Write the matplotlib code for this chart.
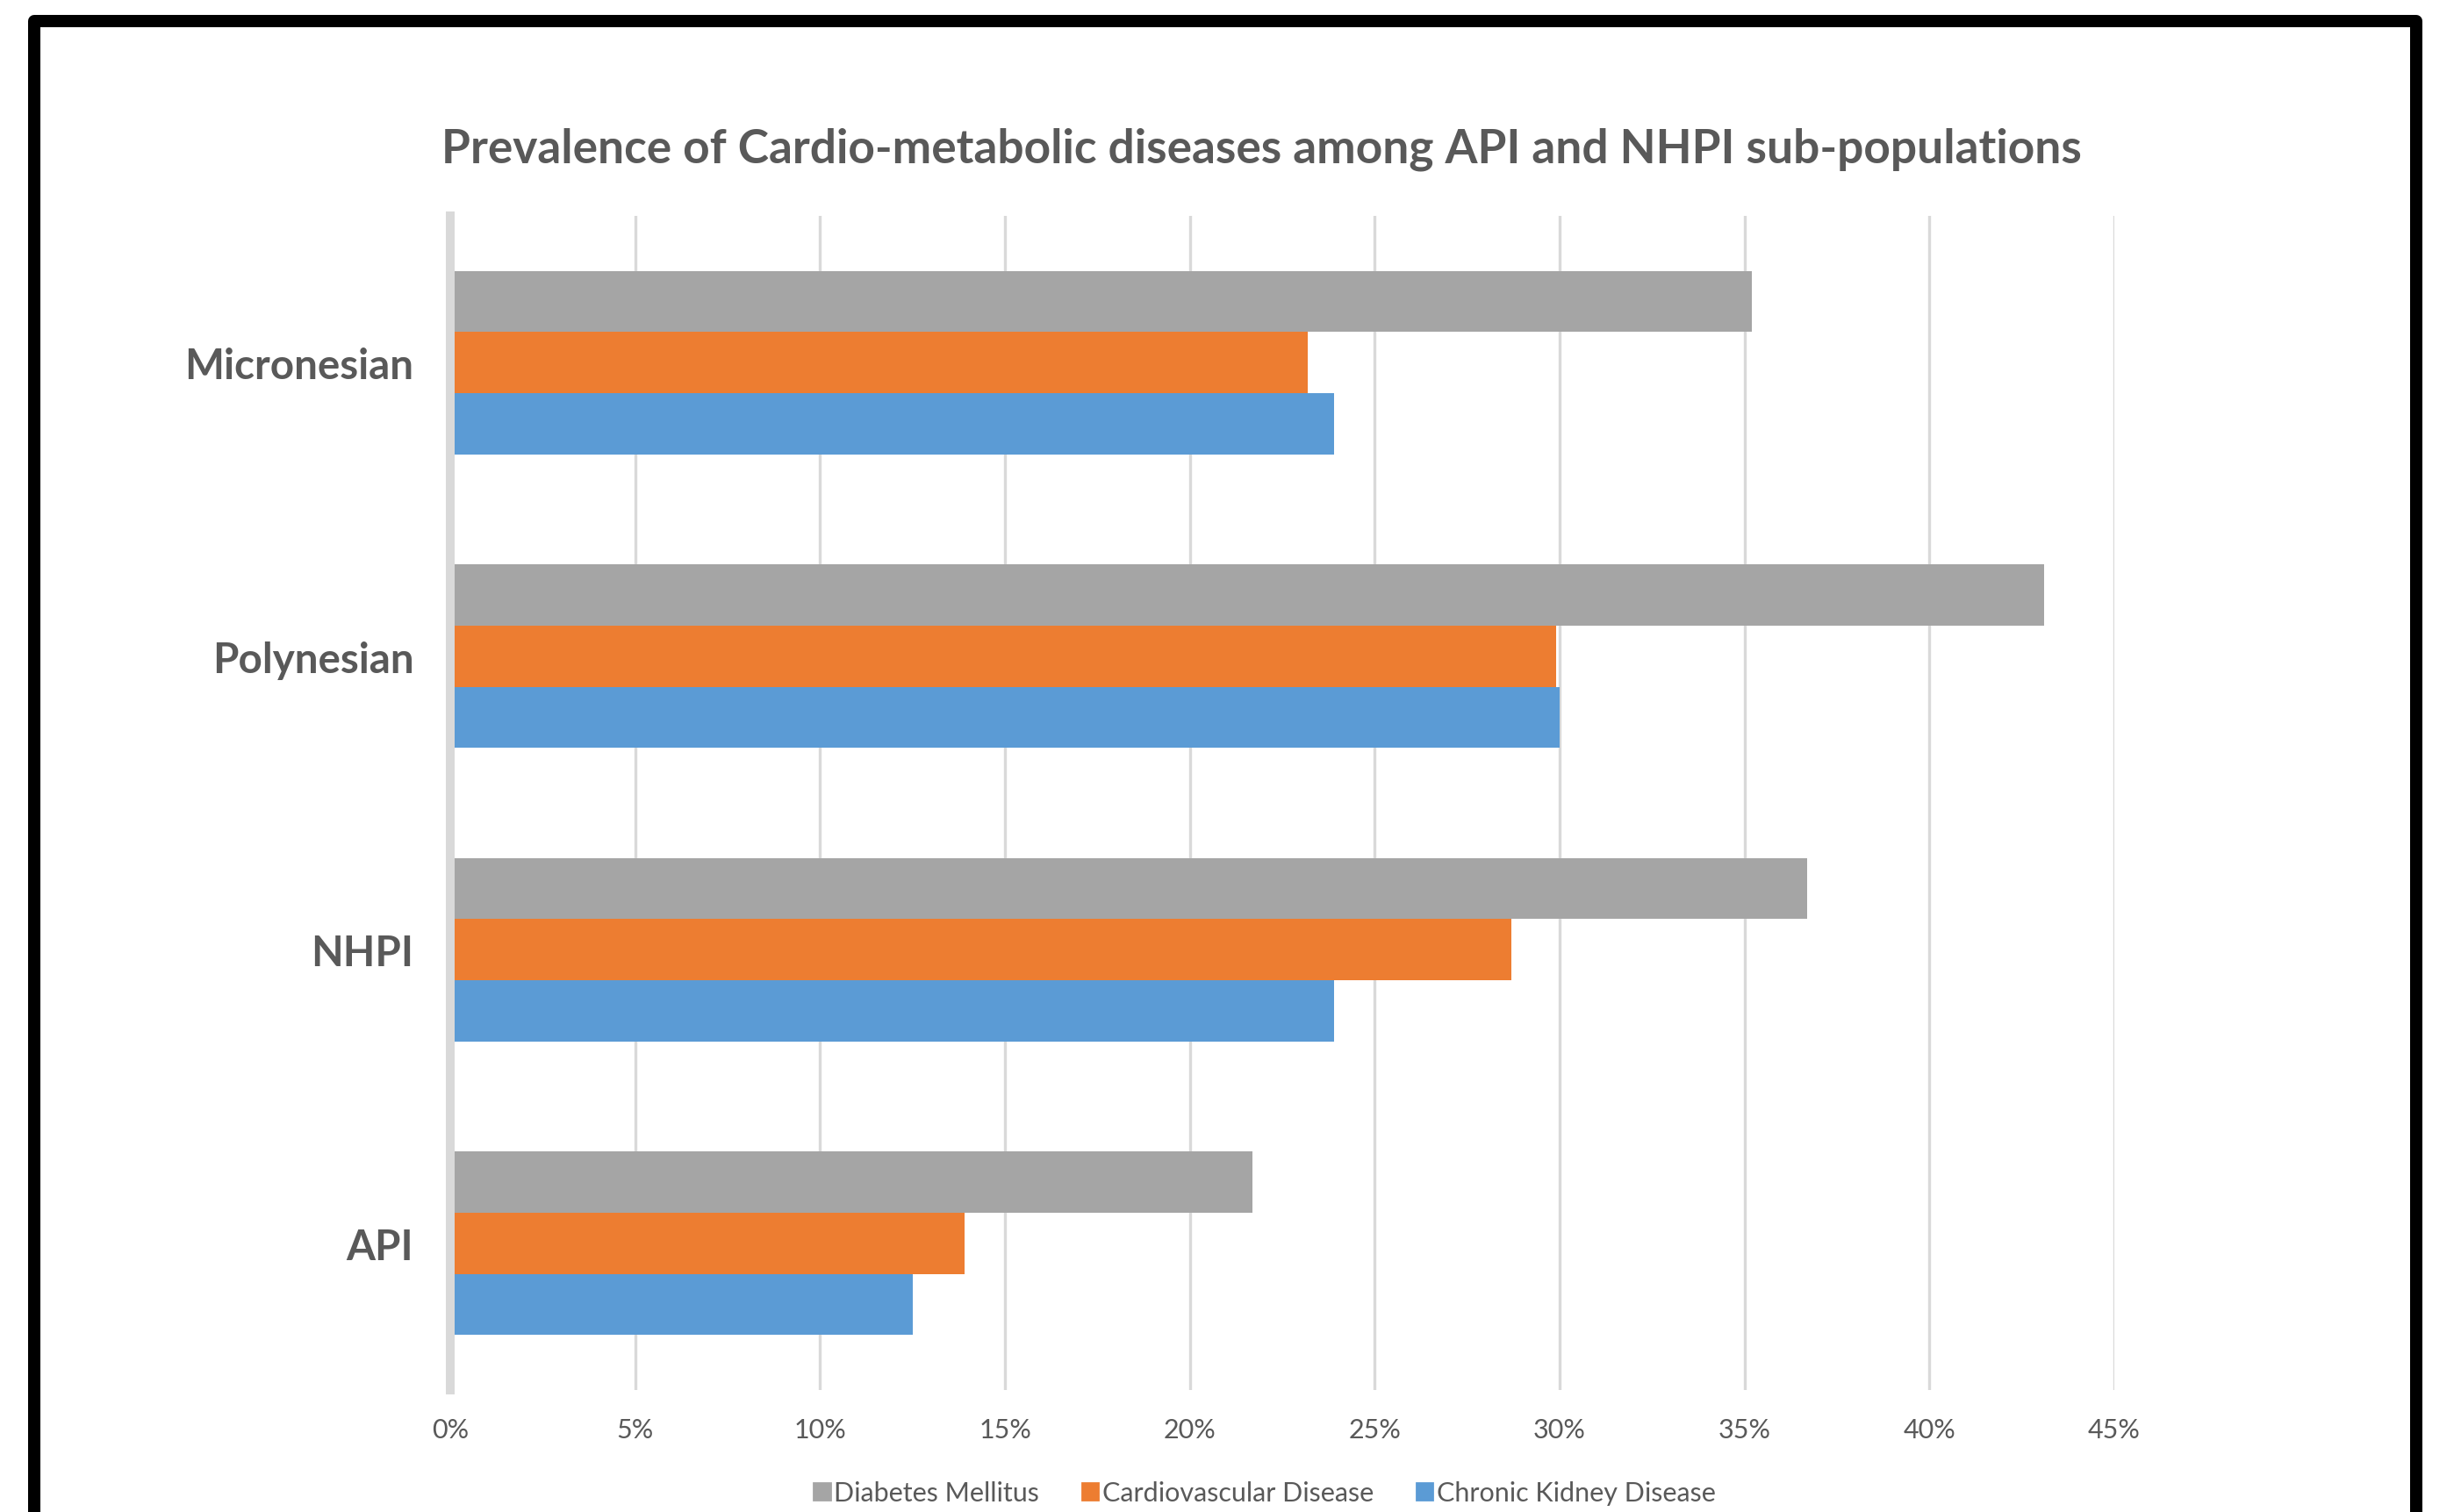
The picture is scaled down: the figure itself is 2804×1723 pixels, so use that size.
import matplotlib.pyplot as plt
import numpy as np
from matplotlib.patches import Rectangle, Patch

# Chart data
categories = ["API", "NHPI", "Polynesian", "Micronesian"]
diabetes = [21.7, 36.7, 43.1, 35.2]
cardio = [13.9, 28.7, 29.9, 23.2]
kidney = [12.5, 23.9, 30.0, 23.9]
series_names = ["Diabetes Mellitus", "Cardiovascular Disease", "Chronic Kidney Disease"]
x_ticks = [0, 5, 10, 15, 20, 25, 30, 35, 40, 45]

GRAY = "#A5A5A5"
ORANGE = "#ED7D31"
BLUE = "#5B9BD5"
TEXT = "#595959"
GRID = "#D9D9D9"

plt.rcParams['font.family'] = ['Lato', 'DejaVu Sans']

W, H, DPI = 2804, 1724, 200
fig = plt.figure(figsize=(W / DPI, H / DPI), dpi=DPI)
fig.patch.set_facecolor("white")

# plot area in figure fractions
left, right = 513 / W, 2409 / W
bottom, top = 1 - 1585 / H, 1 - 247 / H
ax = fig.add_axes([left, bottom, right - left, top - bottom])

y = np.arange(len(categories))
h = 0.208
ax.barh(y + h, diabetes, height=h, color=GRAY, label=series_names[0], zorder=3)
ax.barh(y, cardio, height=h, color=ORANGE, label=series_names[1], zorder=3)
ax.barh(y - h, kidney, height=h, color=BLUE, label=series_names[2], zorder=3)

ax.set_xlim(0, 45)
ax.set_ylim(-0.5, 3.5)
ax.set_xticks(x_ticks)
ax.set_xticklabels([f"{t}%" for t in x_ticks], color=TEXT, fontsize=11)
ax.set_yticks(y)
ax.set_yticklabels(categories, color=TEXT, fontsize=17.1, fontweight="bold")
ax.tick_params(axis="x", length=0, pad=11)
ax.tick_params(axis="y", length=0, pad=15)

for t in x_ticks[1:]:
    ax.axvline(t, color=GRID, lw=1.2, zorder=1)
for s in ["top", "right", "bottom"]:
    ax.spines[s].set_visible(False)
ax.spines["left"].set_color(GRID)
ax.spines["left"].set_linewidth(3.6)
ax.spines["left"].set_zorder(4)

fig.text(1437 / W, 1 - 170 / H,
         "Prevalence of Cardio-metabolic diseases among API and NHPI sub-populations",
         ha="center", va="center", fontsize=19.2, fontweight="bold", color=TEXT)

handles = [Patch(color=c) for c in (GRAY, ORANGE, BLUE)]
fig.legend(handles, series_names, loc="center", bbox_to_anchor=(1441 / W, 1 - 1702 / H),
           ncol=3, frameon=False, fontsize=11, labelcolor=TEXT,
           handlelength=0.6, handleheight=0.6, handletextpad=0.15, columnspacing=1.6)

# black frame around the chart (bottom edge runs off the picture)
lw_px = 14
fig.add_artist(Rectangle((39 / W, -0.05), (2753 - 39) / W, (H - 25) / H + 0.05,
                         transform=fig.transFigure, fill=False, edgecolor="black",
                         lw=lw_px * 72 / DPI, joinstyle="round"))

fig.savefig("out.png", dpi=DPI)
